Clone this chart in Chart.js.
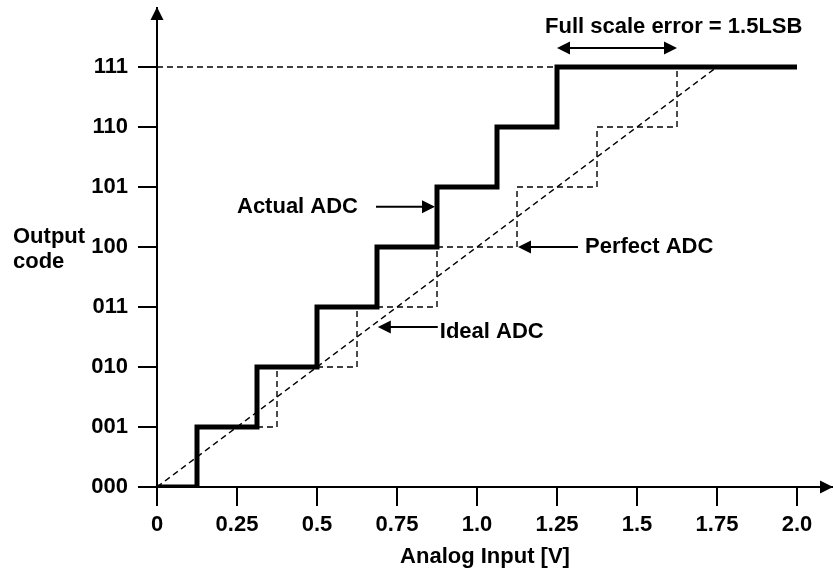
<!DOCTYPE html>
<html>
<head>
<meta charset="utf-8">
<title>ADC transfer function</title>
<script src="https://cdn.jsdelivr.net/npm/chart.js@4.4.1/dist/chart.umd.min.js"></script>
<style>
    html, body { margin: 0; padding: 0; background: #ffffff; }
    canvas { display: block; }
</style>
</head>
<body>
<canvas id="adcChart" width="833" height="571"></canvas>
<script>
// ADC transfer curve: actual vs ideal vs perfect

// Axis labels
const codeLabels = ['000', '001', '010', '011', '100', '101', '110', '111'];
const inputTicks = [0, 0.25, 0.5, 0.75, 1.0, 1.25, 1.5, 1.75, 2.0];
const inputTickLabels = ['0', '0.25', '0.5', '0.75', '1.0', '1.25', '1.5', '1.75', '2.0'];

// Actual ADC (thick staircase) - transition voltages and codes
const actualInput = [0, 0.125, 0.3125, 0.5, 0.6875, 0.875, 1.0625, 1.25, 2.0];
const actualCode = [0, 1, 2, 3, 4, 5, 6, 7, 7];

// Ideal ADC (dashed staircase)
const idealInput = [0, 0.125, 0.375, 0.625, 0.875, 1.125, 1.375, 1.625, 2.0];
const idealCode = [0, 1, 2, 3, 4, 5, 6, 7, 7];

// Perfect ADC (straight dashed line)
const perfectInput = [0, 1.75];
const perfectCode = [0, 7];

// Full scale guide line at 111
const fullScaleInput = [0, 1.25];
const fullScaleCode = [7, 7];

// Full scale error span
const errorSpan = [1.25, 1.625];

const colors = {
    ink: '#000000',
    dash: '#000000'
};

const fontFamily = "'Liberation Sans', Arial, Helvetica, sans-serif";

function toPoints(xs, ys) {
    return xs.map((x, i) => ({ x: x, y: ys[i] }));
}

function arrowHead(ctx, x, y, dx, dy) {
    // filled triangle pointing in direction (dx, dy)
    const len = 13, half = 6.5;
    const px = -dy, py = dx;
    ctx.beginPath();
    ctx.moveTo(x, y);
    ctx.lineTo(x - dx * len + px * half, y - dy * len + py * half);
    ctx.lineTo(x - dx * len - px * half, y - dy * len - py * half);
    ctx.closePath();
    ctx.fill();
}

function arrow(ctx, x1, y1, x2, y2) {
    const d = Math.hypot(x2 - x1, y2 - y1);
    const dx = (x2 - x1) / d, dy = (y2 - y1) / d;
    ctx.beginPath();
    ctx.moveTo(x1, y1);
    ctx.lineTo(x2 - dx * 10, y2 - dy * 10);
    ctx.stroke();
    arrowHead(ctx, x2, y2, dx, dy);
}

// Draws axis arrows, callouts and axis titles
const annotationPlugin = {
    id: 'adcAnnotations',
    afterDraw(chart) {
        const ctx = chart.ctx;
        const xs = chart.scales.x;
        const ys = chart.scales.y;
        const area = chart.chartArea;

        ctx.save();
        ctx.fillStyle = colors.ink;
        ctx.strokeStyle = colors.ink;
        ctx.lineWidth = 2;
        ctx.setLineDash([]);

        // axis arrowheads
        arrowHead(ctx, area.left, area.top - 1, 0, -1);
        arrowHead(ctx, area.right, area.bottom, 1, 0);

        ctx.font = 'bold 22px ' + fontFamily;
        ctx.textBaseline = 'alphabetic';

        // Actual ADC
        let tx = xs.getPixelForValue(0.875) - 2;
        let ty = ys.getPixelForValue(4.67);
        arrow(ctx, tx - 59, ty, tx, ty);
        ctx.textAlign = 'right';
        ctx.fillText('Actual ADC', tx - 77, ty + 6);

        // Ideal ADC
        tx = xs.getPixelForValue(0.69);
        ty = ys.getPixelForValue(2.667);
        arrow(ctx, tx + 60, ty, tx, ty);
        ctx.textAlign = 'left';
        ctx.fillText('Ideal ADC', tx + 62, ty + 11);

        // Perfect ADC
        tx = xs.getPixelForValue(1.125) + 1;
        ty = ys.getPixelForValue(4);
        arrow(ctx, tx + 60, ty, tx, ty);
        ctx.fillText('Perfect ADC', tx + 67, ty + 6);

        // Full scale error
        const ex1 = xs.getPixelForValue(errorSpan[0]);
        const ex2 = xs.getPixelForValue(errorSpan[1]);
        const ey = ys.getPixelForValue(7.317);
        ctx.beginPath();
        ctx.moveTo(ex1 + 10, ey);
        ctx.lineTo(ex2 - 10, ey);
        ctx.stroke();
        arrowHead(ctx, ex1, ey, -1, 0);
        arrowHead(ctx, ex2, ey, 1, 0);
        ctx.fillText('Full scale error = 1.5LSB', ex1 - 12, ey - 15);

        // axis titles
        const y4 = ys.getPixelForValue(4);
        ctx.fillText('Output', 13, y4 - 4);
        ctx.fillText('code', 13, y4 + 21);
        ctx.textAlign = 'center';
        ctx.fillText('Analog Input [V]', 485, area.bottom + 76);

        ctx.restore();
    }
};

function initAdcChart() {
    const ctx = document.getElementById('adcChart').getContext('2d');

    Chart.defaults.font.family = fontFamily;
    Chart.defaults.font.size = 22;
    Chart.defaults.font.weight = 'bold';
    Chart.defaults.color = colors.ink;

    const dashed = {
        borderColor: colors.dash,
        borderWidth: 1.4,
        borderDash: [6, 4],
        pointRadius: 0,
        fill: false
    };

    window.adcChart = new Chart(ctx, {
        type: 'line',
        data: {
            datasets: [
                {
                    label: 'Actual ADC',
                    data: toPoints(actualInput, actualCode),
                    borderColor: colors.ink,
                    borderWidth: 5,
                    stepped: true,
                    pointRadius: 0,
                    fill: false
                },
                Object.assign({ label: 'Ideal ADC', data: toPoints(idealInput, idealCode), stepped: true }, dashed),
                Object.assign({ label: 'Perfect ADC', data: toPoints(perfectInput, perfectCode) }, dashed),
                Object.assign({ label: 'Full scale', data: toPoints(fullScaleInput, fullScaleCode) }, dashed)
            ]
        },
        options: {
            responsive: false,
            animation: false,
            devicePixelRatio: 1,
            layout: {
                padding: { left: 0, right: 0, top: 8, bottom: 0 }
            },
            plugins: {
                legend: { display: false },
                tooltip: { enabled: false }
            },
            scales: {
                x: {
                    type: 'linear',
                    min: 0,
                    max: 2.1125,
                    afterBuildTicks: function(axis) {
                        axis.ticks = inputTicks.map(v => ({ value: v }));
                    },
                    afterFit: function(axis) {
                        axis.height = 84;
                        axis.paddingLeft = 0;
                        axis.paddingRight = 0;
                    },
                    grid: {
                        drawOnChartArea: false,
                        drawTicks: true,
                        tickLength: 19,
                        color: colors.ink,
                        lineWidth: 2
                    },
                    border: { display: true, color: colors.ink, width: 2 },
                    ticks: {
                        padding: 6,
                        maxRotation: 0,
                        autoSkip: false,
                        callback: function(value, index) {
                            return inputTickLabels[index];
                        }
                    }
                },
                y: {
                    type: 'linear',
                    min: 0,
                    max: 479 / 60,
                    afterBuildTicks: function(axis) {
                        axis.ticks = codeLabels.map((c, i) => ({ value: i }));
                    },
                    afterFit: function(axis) {
                        axis.width = 157;
                        axis.paddingTop = 0;
                        axis.paddingBottom = 0;
                    },
                    grid: {
                        drawOnChartArea: false,
                        drawTicks: true,
                        tickLength: 19,
                        color: colors.ink,
                        lineWidth: 2
                    },
                    border: { display: true, color: colors.ink, width: 2 },
                    ticks: {
                        padding: 10,
                        autoSkip: false,
                        callback: function(value, index) {
                            return codeLabels[index];
                        }
                    }
                }
            }
        },
        plugins: [annotationPlugin]
    });
}

initAdcChart();
</script>
</body>
</html>
